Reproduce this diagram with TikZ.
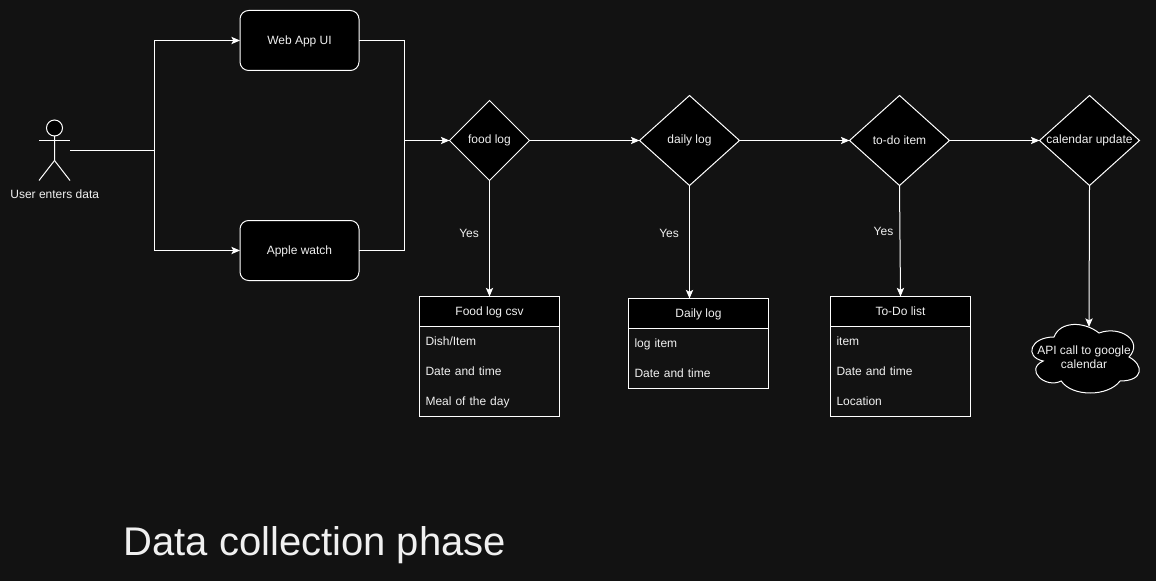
\documentclass[tikz,border=0pt]{standalone}
\usepackage{fontspec}
\setmainfont{Liberation Sans}
\usepackage{xcolor}
\definecolor{bgdark}{RGB}{18, 18, 18}
\definecolor{inkwhite}{RGB}{240, 240, 240}
\usepackage{tikz}
\usetikzlibrary{positioning, shapes.geometric, arrows.meta}

\begin{document}
\begin{tikzpicture}[
  x=0.75pt, y=-0.75pt,
  every node/.style={outer sep=0pt, inner sep=0pt, text=inkwhite, font=\fontsize{9}{10.5}\selectfont},
  wire/.style={draw=white, line width=0.75pt},
  arrow/.style={wire, -{Stealth[length=6.5pt, width=5.5pt, inset=1.5pt]}},
  block/.style={rectangle, draw=white, fill=black, line width=0.75pt, rounded corners=6.5pt, minimum width=89.25pt, minimum height=45pt, text height=8pt, text depth=1.5pt},
  decision/.style={diamond, draw=white, fill=black, line width=0.75pt, minimum width=75pt, minimum height=67.5pt},
  tablehead/.style={rectangle, draw=white, fill=black, line width=0.75pt, minimum width=105pt, minimum height=22.5pt, text height=8pt, text depth=1.5pt},
  tablerow/.style={rectangle, inner xsep=4.5pt, text width=96pt, align=left, minimum height=22.5pt, text height=8pt, text depth=1.5pt},
  yeslabel/.style={left=8pt}
]
\useasboundingbox[fill=bgdark] (0,0) rectangle (1156,581);
% Actor
\node[circle, draw=white, fill=black, line width=0.75pt, minimum size=12pt] (head) at (54.5,128) {};
\draw[wire] (head.south) -- (54.5,160.5) -- (39,180.5);
\draw[wire] (54.5,160.5) -- (70,180.5);
\draw[wire] (39,140.5) -- (70,140.5);
\node (user) at (54.7,194) {User enters data};
\coordinate (userout) at (70,150.5);
\coordinate (split) at (154.5,150.5);
% Inputs
\node[block] (web) at (299.5,40.5) {Web App UI};
\node[block, below=112.5pt of web] (watch) {Apple watch};
\coordinate (merge) at (404.5,140.5);
% Decisions
\node[decision, minimum width=60pt, minimum height=60pt] (food) at (489.5,140.5) {food log};
\node[decision, right=82.5pt of food] (daily) {daily log};
\node[decision, right=82.5pt of daily] (todo) {to-do item};
\node[decision, right=67.5pt of todo] (cal) {\makebox[0pt]{calendar update}};
% Food table
\node[tablehead, below=87pt of food] (foodhdr) {Food log csv};
\node[tablerow, below=0pt of foodhdr] (foodrowa) {Dish/Item};
\node[tablerow, below=0pt of foodrowa] (foodrowb) {Date and time};
\node[tablerow, below=0pt of foodrowb] (foodrowc) {Meal of the day};
\draw[wire] (foodhdr.north west) rectangle (foodrowc.south east);
% Daily table
\node[tablehead, below=84.75pt of daily, xshift=6.75pt] (dailyhdr) {Daily log};
\node[tablerow, below=0pt of dailyhdr] (dailyrowa) {log item};
\node[tablerow, below=0pt of dailyrowa] (dailyrowb) {Date and time};
\draw[wire] (dailyhdr.north west) rectangle (dailyrowb.south east);
% To-do table
\node[tablehead, below=83.25pt of todo, xshift=0.75pt] (todohdr) {To-Do list};
\node[tablerow, below=0pt of todohdr] (todorowa) {item};
\node[tablerow, below=0pt of todorowa] (todorowb) {Date and time};
\node[tablerow, below=0pt of todorowb] (todorowc) {Location};
\draw[wire] (todohdr.north west) rectangle (todorowc.south east);
% Cloud
\begin{scope}[shift={(1024,317)}, x=90pt, y=-60pt]
\draw[wire, fill=black] (0.25,0.25) .. controls (0.05,0.25) and (0,0.5) .. (0.16,0.55)
  .. controls (0,0.66) and (0.18,0.9) .. (0.31,0.8)
  .. controls (0.4,1) and (0.7,1) .. (0.8,0.8)
  .. controls (1,0.8) and (1,0.6) .. (0.875,0.5)
  .. controls (1,0.3) and (0.8,0.1) .. (0.625,0.2)
  .. controls (0.5,0.05) and (0.3,0.05) .. (0.25,0.25) -- cycle;
\end{scope}
\node[align=center] (api) at (1084,357) {API call to google\\calendar};
\coordinate (apiin) at (1089,327);
% Title
\node[anchor=base west, font=\fontsize{30}{36}\selectfont] (title) at (123.5,555) {Data collection phase};
% Arrows
\draw[wire] (userout) -- (split);
\draw[arrow] (split) |- (web);
\draw[arrow] (split) |- (watch);
\draw[wire] (web) -| (merge);
\draw[wire] (watch) -| (merge);
\draw[arrow] (merge) -- (food);
\draw[arrow] (food) -- (daily);
\draw[arrow] (daily) -- (todo);
\draw[arrow] (todo) -- (cal);
\draw[arrow] (food) -- node[yeslabel, pos=0.455] (yesfood) {Yes} (foodhdr);
\draw[arrow] (daily.south) -- node[yeslabel, pos=0.42] (yesdaily) {Yes} (daily.south |- dailyhdr.north);
\draw[arrow] (todo.south) -- node[left=5pt, pos=0.415] (yestodo) {Yes} (todohdr.north);
\draw[arrow] (cal.south) -- (apiin);
\end{tikzpicture}
\end{document}
